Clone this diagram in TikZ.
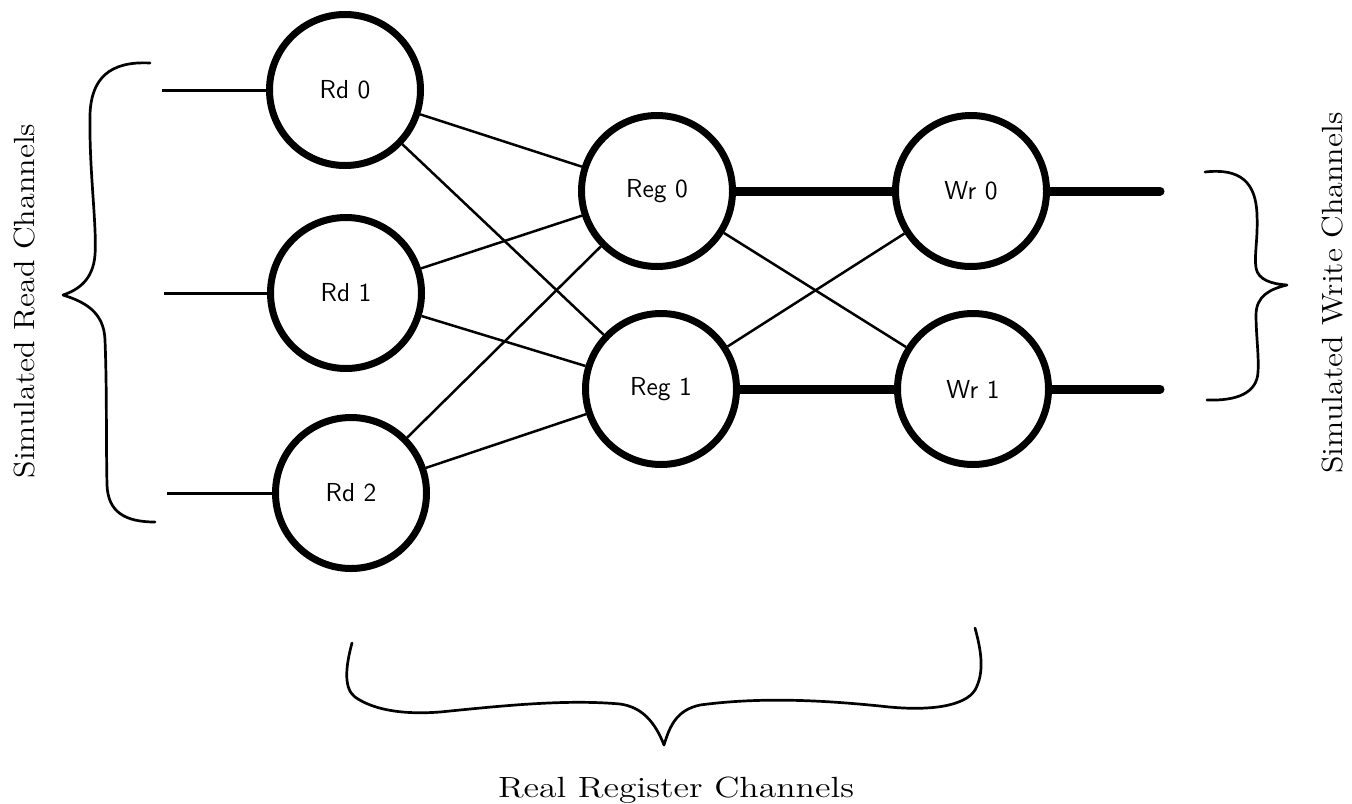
\documentclass[tikz,border=0pt]{standalone}
\begin{document}
\begin{tikzpicture}[x=0.5pt,y=-0.5pt,
  chan/.style={circle, draw, line width=3.5pt, minimum size=75.5pt, inner sep=0pt,
               font=\fontsize{13}{15}\selectfont\sffamily},
  link/.style={line width=1.25pt},
  feedline/.style={line width=1.5pt},
  heavyline/.style={line width=4.5pt},
  outline/.style={line width=4.5pt, line cap=round},
  bracepath/.style={line width=1.35pt, line cap=round, line join=round},
  lbl/.style={inner sep=0pt, font=\fontsize{14.6}{17}\selectfont}]
\fill[white] (0,0) rectangle (1352,803);
\useasboundingbox (0,0) rectangle (1352,803);

% channel processes
\node[chan] (rd0)  at (345,90)  {Rd 0};
\node[chan] (rd1)  at (346,293) {Rd 1};
\node[chan] (rd2)  at (351,493) {Rd 2};
\node[chan] (reg0) at (657,191) {Reg 0};
\node[chan] (reg1) at (661,389) {Reg 1};
\node[chan] (wr0)  at (971,191) {Wr 0};
\node[chan] (wr1)  at (973,389) {Wr 1};

% free ends
\coordinate (in0)  at (162,90);
\coordinate (in1)  at (164,293);
\coordinate (in2)  at (167,493);
\coordinate (out0) at (1160,191);
\coordinate (out1) at (1160,389);

% input lines
\draw[feedline] (in0) -- (rd0);
\draw[feedline] (in1) -- (rd1);
\draw[feedline] (in2) -- (rd2);

% read -> register links
\draw[link] (rd0) -- (reg0);
\draw[link] (rd0) -- (reg1);
\draw[link] (rd1) -- (reg0);
\draw[link] (rd1) -- (reg1);
\draw[link] (rd2) -- (reg0);
\draw[link] (rd2) -- (reg1);

% register -> write links
\draw[heavyline] (reg0) -- (wr0);
\draw[heavyline] (reg1) -- (wr1);
\draw[link] (reg0) -- (wr1);
\draw[link] (reg1) -- (wr0);

% outputs
\draw[outline] (wr0) -- (out0);
\draw[outline] (wr1) -- (out1);

% left brace
\draw[bracepath] (150,63) .. controls (110,61) and (91,78) .. (90,115)
  .. controls (89,170) and (97,225) .. (95,255)
  .. controls (93,280) and (78,290) .. (63,295)
  .. controls (85,302) and (104,312) .. (105,340)
  .. controls (107,390) and (106,440) .. (107,485)
  .. controls (108,512) and (125,522) .. (155,522);

% right brace
\draw[bracepath] (1205,172) .. controls (1240,168) and (1256,182) .. (1257,215)
  .. controls (1258,240) and (1254,255) .. (1256,268)
  .. controls (1258,280) and (1272,284) .. (1287,285)
  .. controls (1270,289) and (1256,296) .. (1256,315)
  .. controls (1256,335) and (1259,355) .. (1258,372)
  .. controls (1257,393) and (1237,401) .. (1207,400);

% bottom brace
\draw[bracepath] (352,643) .. controls (346,665) and (343,688) .. (355,697)
  .. controls (372,709) and (400,715) .. (440,712)
  .. controls (500,706) and (565,699) .. (620,704)
  .. controls (642,707) and (655,722) .. (664,745)
  .. controls (670,725) and (677,710) .. (700,705)
  .. controls (760,697) and (820,700) .. (880,706)
  .. controls (930,712) and (965,706) .. (975,690)
  .. controls (985,672) and (981,650) .. (975,628);

% labels
\node[lbl, rotate=90] (readlbl) at (25,301) {\scalebox{1.1}[1]{Simulated Read Channels}};
\node[lbl, rotate=90] (writelbl) at (1333,293) {\scalebox{1.1}[1]{Simulated Write Channels}};
\node[lbl, anchor=base] (reglbl) at (676,797) {\scalebox{1.22}[1]{Real Register Channels}};
\end{tikzpicture}
\end{document}
